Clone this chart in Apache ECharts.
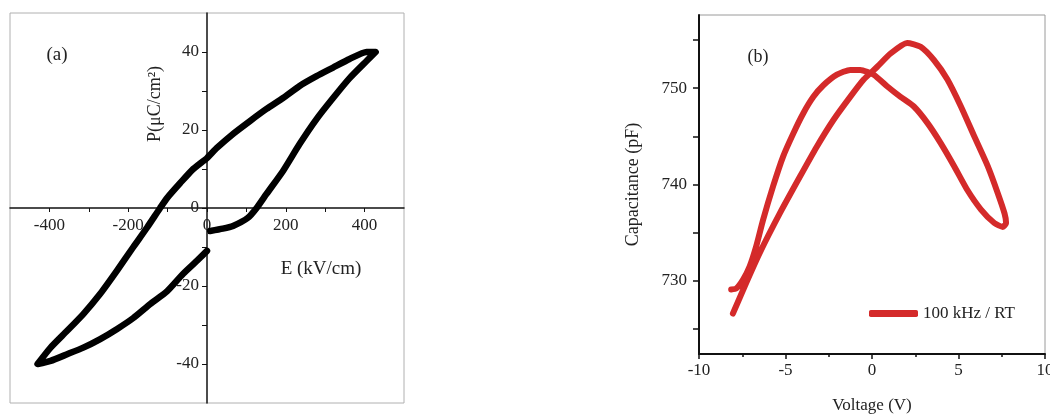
<!DOCTYPE html>
<html>
<head>
<meta charset="utf-8">
<script src="https://cdn.jsdelivr.net/npm/echarts@6/dist/echarts.min.js"></script>
<style>
html,body{margin:0;padding:0;background:#fff;}
#chart{width:1050px;height:415px;}
</style>
</head>
<body>
<div id="chart"></div>
<script>
// ---- Panel (a): P-E hysteresis loop ----
const peE = [8, 40, 66, 104, 126, 151, 193, 235, 278, 320, 362, 405, 428,
  405, 362, 320, 278, 235, 193, 151, 109, 66, 25, 0, -35, -68, -101, -119, -152, -187, -228, -271, -314, -355, -397, -430,
  -397, -355, -314, -271, -228, -187, -144, -101, -61, -18, 0];
const peP = [-5.9, -5.3, -4.6, -2.5, 0, 3.6, 9.5, 16.4, 22.8, 28.2, 33.3, 37.7, 40,
  40, 38.2, 36, 33.8, 31.3, 28.2, 25.4, 22.3, 19, 15.4, 12.8, 10, 6.4, 2.6, 0, -5, -10, -16, -22, -27.2, -31.5, -35.8, -40,
  -39.2, -37.5, -35.8, -33.6, -31, -28.2, -24.6, -21.3, -16.9, -12.8, -11];
const peXTicks = [-400, -300, -200, -100, 0, 100, 200, 300, 400];
const peXLabels = [-400, -200, 0, 200, 400];
const peYTicks = [-40, -30, -20, -10, 0, 10, 20, 30, 40];
const peYLabels = [-40, -20, 0, 20, 40];

// ---- Panel (b): C-V loop ----
const cvV = [-8.04, -7.27, -6.49, -5.33, -4.17, -3.2, -2.23, -1.26, -0.48, 0.29, 1.07, 2.03, 2.81, 3.59, 4.36, 5.14, 5.91, 6.69, 7.27, 7.66, 7.75, 7.56,
  7.07, 6.3, 5.52, 4.75, 3.97, 3.2, 2.42, 1.65, 0.87, 0.1, -0.68, -1.26, -2.03, -2.81, -3.39, -3.97, -4.55, -5.14, -5.72, -6.3, -6.69, -7.07, -7.46, -7.85, -8.14];
const cvC = [726.6, 729.8, 732.9, 737, 740.8, 743.9, 746.7, 749.1, 750.9, 752.2, 753.6, 754.7, 754.3, 752.9, 750.9, 748.1, 745, 741.9, 739.1, 737, 736, 735.6,
  736, 737.4, 739.4, 741.9, 744.3, 746.4, 748.1, 749.1, 750.2, 751.4, 751.9, 751.9, 751.4, 750.3, 749.1, 747.4, 745.3, 742.9, 739.8, 736.3, 733.6, 731.5, 730.1, 729.2, 729.1];
const cvXLabels = [-10, -5, 0, 5, 10];
const cvYTicks = [725, 730, 735, 740, 745, 750, 755];
const cvYLabels = [730, 740, 750];
const cvSeriesName = '100 kHz / RT';

const serif = '"Liberation Serif", "DejaVu Serif", serif';
const peData = peE.map((e, i) => [e, peP[i]]);
const cvData = cvV.map((v, i) => [v, cvC[i]]);

const gridA = {left: 10, top: 13, width: 394, height: 390};
const chart = echarts.init(document.getElementById('chart'), null, {renderer: 'canvas'});
chart.setOption({
  animation: false,
  backgroundColor: '#fff',
  grid: [
    Object.assign({show: true, borderColor: '#b0b0b0', borderWidth: 1, backgroundColor: 'transparent',
      containLabel: false, outerBoundsMode: 'none'}, gridA),
    {left: 699, top: 15, right: 5, bottom: 61, show: true, borderColor: '#9a9a9a', borderWidth: 1,
      backgroundColor: 'transparent', containLabel: false, outerBoundsMode: 'none'}
  ],
  xAxis: [
    {gridIndex: 0, type: 'value', min: -500, max: 500, position: 'bottom', offset: -gridA.height / 2,
      axisLine: {onZero: false, lineStyle: {color: '#111', width: 1.5}},
      axisTick: {show: true, length: 4, customValues: peXTicks, lineStyle: {color: '#111'}},
      axisLabel: {customValues: peXLabels, margin: 9, color: '#222', fontFamily: serif, fontSize: 17},
      splitLine: {show: false}},
    {gridIndex: 1, type: 'value', min: -10, max: 10, interval: 5,
      axisLine: {onZero: false, lineStyle: {color: '#111', width: 2}},
      axisTick: {show: true, length: 5, lineStyle: {color: '#111', width: 1.5}},
      minorTick: {show: true, splitNumber: 2, length: 3, lineStyle: {color: '#111', width: 1.5}},
      axisLabel: {showMinLabel: true, showMaxLabel: true, margin: 8, color: '#222', fontFamily: serif, fontSize: 17},
      splitLine: {show: false}, minorSplitLine: {show: false},
      name: 'Voltage (V)', nameLocation: 'middle', nameGap: 43,
      nameTextStyle: {color: '#222', fontFamily: serif, fontSize: 17}}
  ],
  yAxis: [
    {gridIndex: 0, type: 'value', min: -50, max: 50, position: 'left', offset: -gridA.width / 2,
      axisLine: {onZero: false, lineStyle: {color: '#111', width: 1.5}},
      axisTick: {show: true, length: 5, customValues: peYTicks, lineStyle: {color: '#111'}},
      axisLabel: {customValues: peYLabels, margin: 8, color: '#222', fontFamily: serif, fontSize: 17},
      splitLine: {show: false}},
    {gridIndex: 1, type: 'value', min: 722.4, max: 757.6,
      axisLine: {onZero: false, lineStyle: {color: '#111', width: 2}},
      axisTick: {show: true, length: 6, customValues: cvYTicks, lineStyle: {color: '#111', width: 1.5}},
      axisLabel: {customValues: cvYLabels, margin: 12, color: '#222', fontFamily: serif, fontSize: 17},
      splitLine: {show: false},
      name: 'Capacitance (pF)', nameLocation: 'middle', nameGap: 57,
      nameTextStyle: {color: '#222', fontFamily: serif, fontSize: 18}}
  ],
  legend: {
    show: true, left: 864, top: 300, icon: 'roundRect', itemWidth: 49, itemHeight: 7,
    data: [cvSeriesName],
    textStyle: {color: '#222', fontFamily: serif, fontSize: 17}
  },
  series: [
    {type: 'line', name: 'P-E', xAxisIndex: 0, yAxisIndex: 0, data: peData, smooth: 0.2,
      showSymbol: false, symbol: 'none',
      lineStyle: {color: '#000', width: 6.5, cap: 'round', join: 'round'}},
    {type: 'line', name: cvSeriesName, xAxisIndex: 1, yAxisIndex: 1, data: cvData, smooth: 0.2,
      showSymbol: false, symbol: 'none', itemStyle: {color: '#d42a2a'},
      lineStyle: {color: '#d42a2a', width: 6, cap: 'round', join: 'round'}}
  ],
  graphic: [
    {type: 'text', x: 57, y: 55, style: {text: '(a)', font: '19px ' + serif, fill: '#222', align: 'center', verticalAlign: 'middle'}},
    {type: 'text', x: 155, y: 104, rotation: Math.PI / 2,
      style: {text: 'P(μC/cm²)', font: '18px ' + serif, fill: '#222', align: 'center', verticalAlign: 'middle'}},
    {type: 'text', x: 321, y: 269, style: {text: 'E (kV/cm)', font: '19px ' + serif, fill: '#222', align: 'center', verticalAlign: 'middle'}},
    {type: 'text', x: 758, y: 57, style: {text: '(b)', font: '18px ' + serif, fill: '#222', align: 'center', verticalAlign: 'middle'}}
  ]
});
</script>
</body>
</html>
